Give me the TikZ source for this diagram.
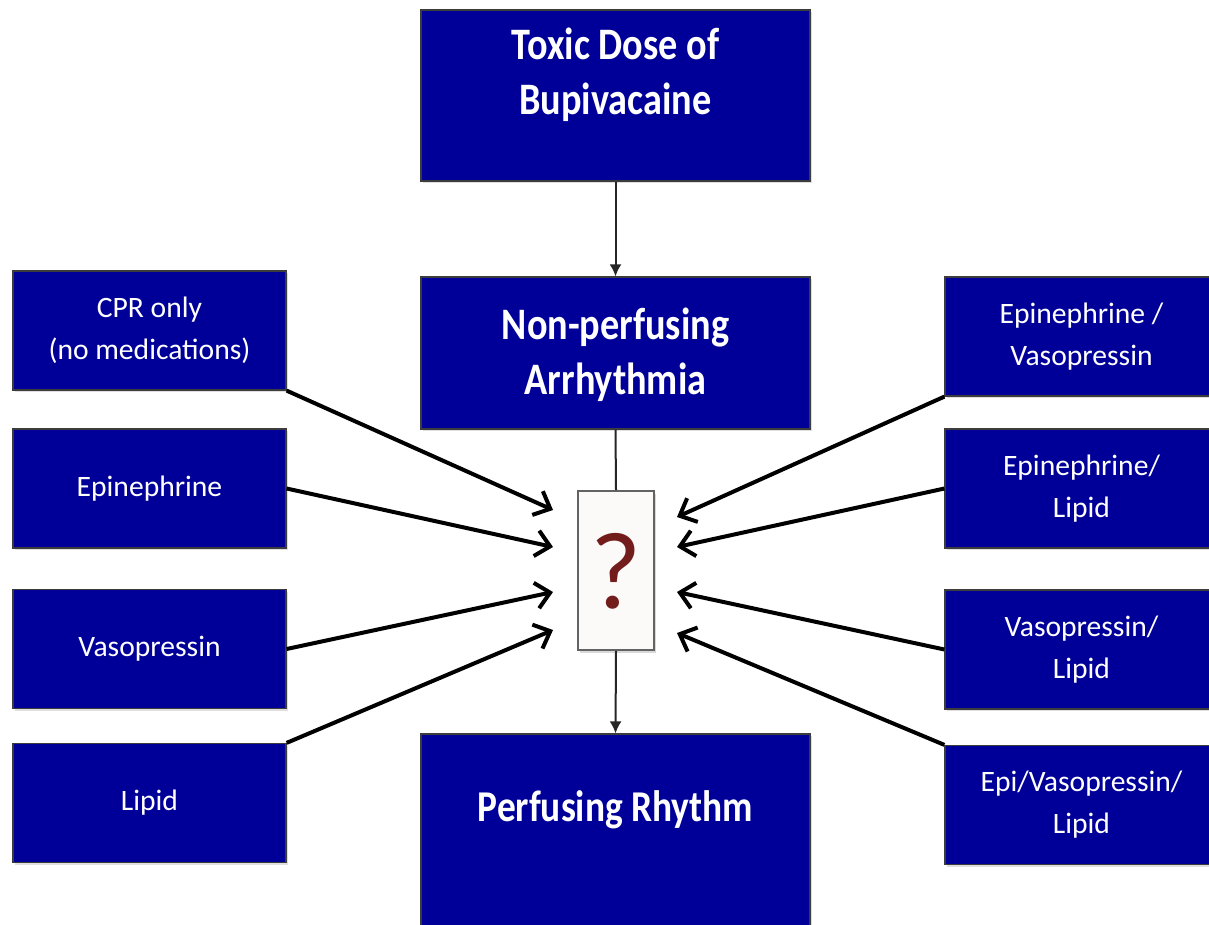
\documentclass[tikz,border=0pt]{standalone}
\usepackage{fontspec}
\setmainfont{Carlito}
\newfontfamily\headfont[FakeStretch=0.85]{Carlito}
\usetikzlibrary{
  arrows.meta,
  shadows,
  calc
}
\definecolor{boxblue}{RGB}{0,0,153}
\definecolor{boxedge}{RGB}{60,60,60}
\definecolor{qpaper}{RGB}{251,250,248}
\definecolor{qred}{RGB}{115,28,28}
\tikzset{
  bluebox/.style={draw=boxedge,line width=0.6pt,fill=boxblue,text=white,
    drop shadow={opacity=0.25,shadow xshift=1pt,shadow yshift=-1pt}},
  mainbox/.style={bluebox,minimum width=194.5pt},
  sidebox/.style={bluebox,minimum width=136.5pt,minimum height=59.5pt,align=center,
    font=\fontsize{14.8}{21}\selectfont},
  headtxt/.style={text=white,align=center,inner sep=0pt,
    font=\headfont\bfseries\fontsize{22.5}{27.5}\selectfont},
  qbox/.style={draw=boxedge!80,line width=0.8pt,fill=qpaper,
    minimum width=38pt,minimum height=79.5pt,
    drop shadow={opacity=0.3,shadow xshift=1pt,shadow yshift=-1.5pt}},
  thin link/.style={draw=black!85,line width=1pt},
  drug arrow/.style={line width=2pt,-{Straight Barb[length=7pt,width=13pt,line width=2pt]}}
}

\begin{document}
\begin{tikzpicture}[x=0.5pt,y=-0.5pt]
\useasboundingbox (0,0) rectangle (1209,925);
% main column
\node[mainbox,minimum height=85.5pt] (toxic) at (615.5,95.5) {};
\node[headtxt] (toxictxt) at (615.5,75) {Toxic Dose of\\Bupivacaine};
\node[mainbox,minimum height=76pt] (nonperf) at (615.5,353) {};
\node[headtxt] (nonperftxt) at (615.5,355) {Non-perfusing\\Arrhythmia};
\node[mainbox,minimum height=108pt] (perf) at (615.5,842) {};
\node[headtxt,font=\headfont\bfseries\fontsize{22}{26}\selectfont] (perftxt) at (615.5,810) {Perfusing Rhythm};
\node[qbox] (q) at (616,570.5) {};
\node[text=qred,font=\fontsize{55}{55}\selectfont,inner sep=0pt] (qmark) at (616,571) {?};
% single agents on the left
\node[sidebox] (cpr) at (149.5,330.5) {CPR only\\(no medications)};
\node[sidebox] (epi) at (149.5,488.5) {Epinephrine};
\node[sidebox] (vaso) at (149.5,649) {Vasopressin};
\node[sidebox] (lipid) at (149.5,803) {Lipid};
% combinations on the right
\node[sidebox] (epivaso) at (1081.5,336.5) {Epinephrine /\\Vasopressin};
\node[sidebox] (epilipid) at (1081.5,488.5) {Epinephrine/\\Lipid};
\node[sidebox] (vasolipid) at (1081.5,649.5) {Vasopressin/\\Lipid};
\node[sidebox] (allthree) at (1081.5,805) {Epi/Vasopressin/\\Lipid};
% flow down the middle
\draw[thin link,-{Latex[length=6pt,width=6pt]}] (toxic.south) -- (nonperf.north);
\draw[thin link] (nonperf.south) -- (q.north);
\draw[thin link,-{Latex[length=6pt,width=6pt]}] (q.south) -- (perf.north);
% arrow tips round the question box
\foreach \n/\y in {1/510,2/547,3/592,4/630}{
  \coordinate (inL\n) at (553,\y);
}
\foreach \n/\y in {1/517,2/547,3/592,4/633}{
  \coordinate (inR\n) at (677,\y);
}
\draw[drug arrow] (cpr.south east) -- (inL1);
\draw[drug arrow] (epi.east) -- (inL2);
\draw[drug arrow] (vaso.east) -- (inL3);
\draw[drug arrow] (lipid.north east) -- (inL4);
\draw[drug arrow] (epivaso.south west) -- (inR1);
\draw[drug arrow] (epilipid.west) -- (inR2);
\draw[drug arrow] (vasolipid.west) -- (inR3);
\draw[drug arrow] (allthree.north west) -- (inR4);
\end{tikzpicture}
\end{document}
